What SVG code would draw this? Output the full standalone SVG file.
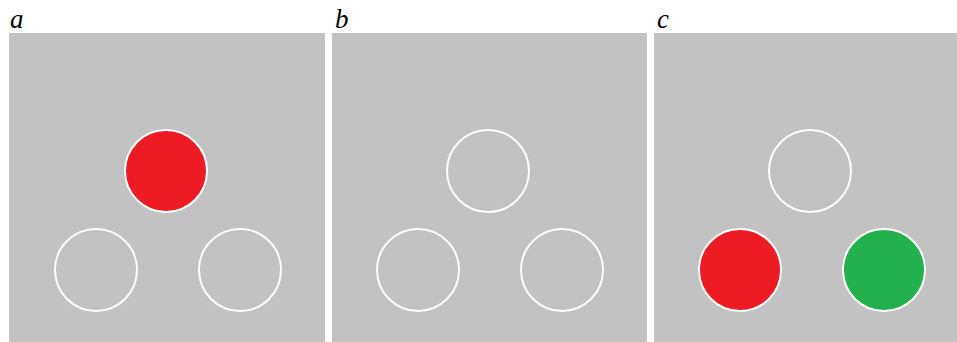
<svg xmlns="http://www.w3.org/2000/svg" width="957" height="342" viewBox="0 0 957 342">
<style>
.panel{fill:#c2c2c2}
.ring{stroke:#ffffff;stroke-width:2;fill:none}
.red{fill:#ed1c24}
.green{fill:#22b14c}
.lbl{font-family:"Liberation Serif",serif;font-style:italic;font-size:27px;fill:#000}
</style>
<rect width="957" height="342" fill="#ffffff"/>
<g id="panel-a">
<rect class="panel" x="9" y="33" width="316" height="309"/>
<text class="lbl" x="10" y="28">a</text>
<circle class="ring red" cx="166" cy="171" r="41"/>
<circle class="ring" cx="96" cy="270" r="41"/>
<circle class="ring" cx="240" cy="270" r="41"/>
</g>
<g id="panel-b">
<rect class="panel" x="332" y="33" width="315" height="309"/>
<text class="lbl" x="335" y="28">b</text>
<circle class="ring" cx="488" cy="171" r="41"/>
<circle class="ring" cx="418" cy="270" r="41"/>
<circle class="ring" cx="562" cy="270" r="41"/>
</g>
<g id="panel-c">
<rect class="panel" x="654" y="33" width="303" height="309"/>
<text class="lbl" x="657" y="28">c</text>
<circle class="ring" cx="810" cy="171" r="41"/>
<circle class="ring red" cx="740" cy="270" r="41"/>
<circle class="ring green" cx="884" cy="270" r="41"/>
</g>
<g id="connectors"/>
</svg>
